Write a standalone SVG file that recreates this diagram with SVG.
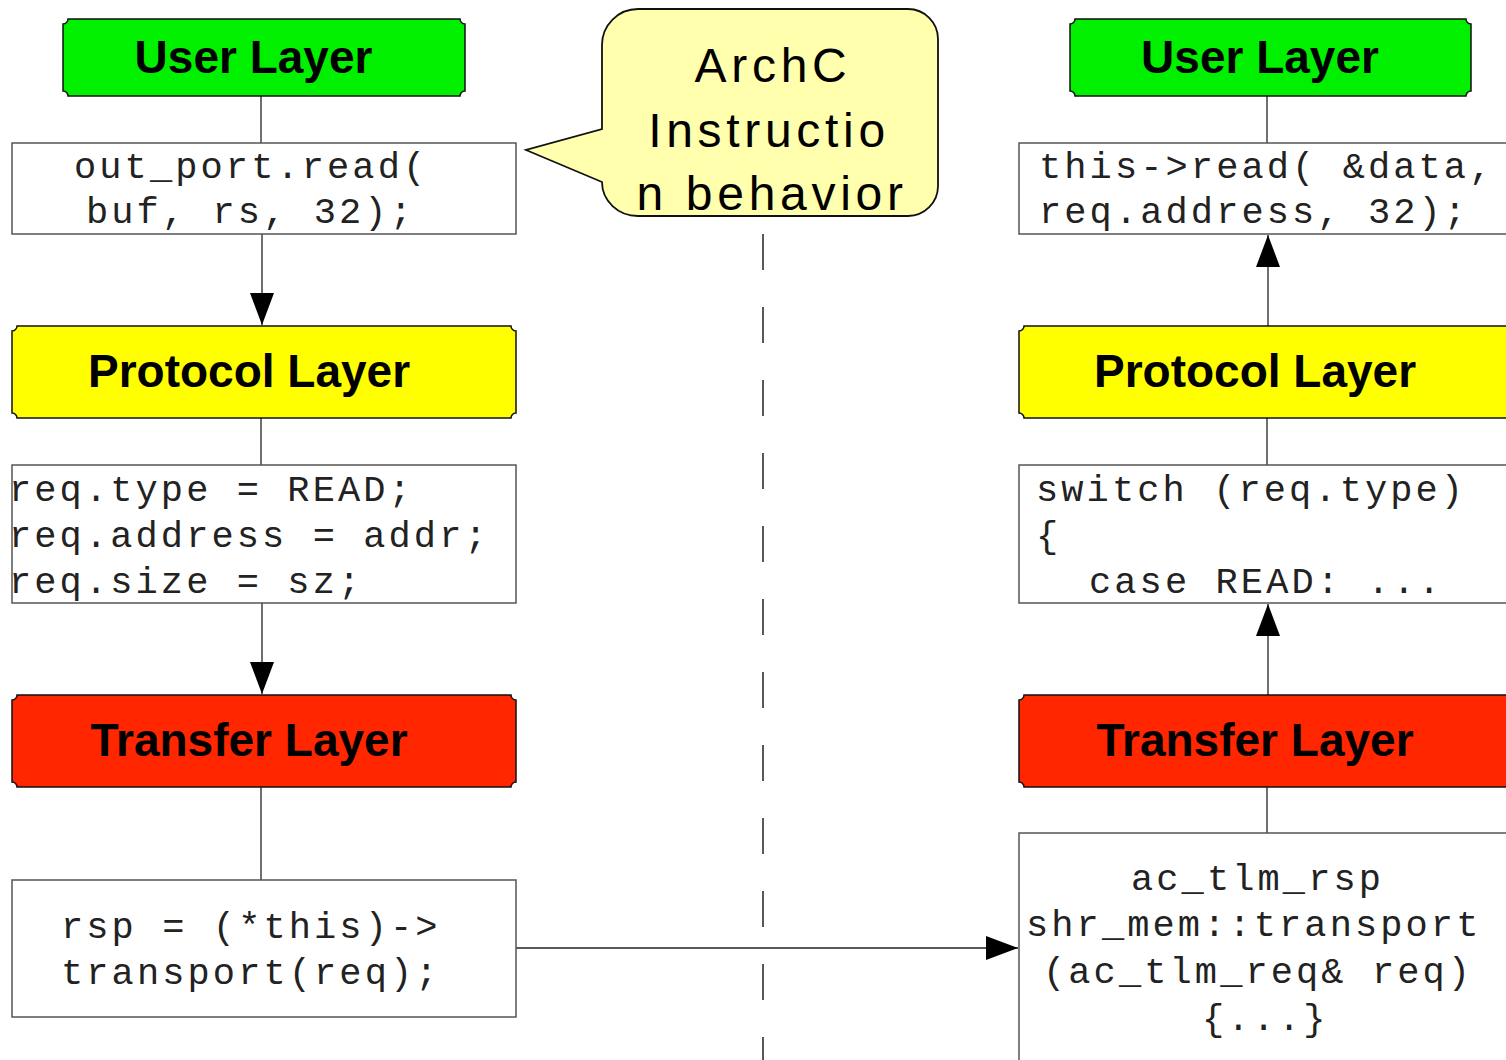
<svg xmlns="http://www.w3.org/2000/svg" width="1506" height="1060" viewBox="0 0 1506 1060">
  <defs>
    <style>
      .layer { stroke: #111; stroke-width: 1.5; }
      .green { fill: #00f000; }
      .yellow { fill: #ffff00; }
      .red { fill: #ff2600; }
      .title { font-family: "Liberation Sans", Arial, sans-serif; font-weight: bold; font-size: 46px; fill: #000; text-anchor: middle; }
      .code-box { fill: #fff; stroke: #555; stroke-width: 1.5; }
      .code { font-family: "Liberation Mono", "Courier New", monospace; font-size: 37px; letter-spacing: 3.1px; fill: #222; white-space: pre; }
      .link { stroke: #222; stroke-width: 1.3; fill: none; }
      .divider { stroke: #222; stroke-width: 1.5; stroke-dasharray: 36 37; fill: none; }
      .callout { fill: #ffffad; stroke: #111; stroke-width: 1.8; }
      .callout-text { font-family: "Liberation Sans", Arial, sans-serif; font-size: 48px; letter-spacing: 4.7px; fill: #000; text-anchor: middle; }
    </style>
    <marker id="head" markerUnits="userSpaceOnUse" markerWidth="32" markerHeight="24" refX="32" refY="12" orient="auto">
      <path d="M0,0 L32,12 L0,24 Z" fill="#000"/>
    </marker>
  </defs>

  <!-- background -->
  <rect x="0" y="0" width="1506" height="1060" fill="#fff"/>

  <!-- dashed divider between the two sides -->
  <line class="divider" x1="763" y1="234" x2="763" y2="1060"/>

  <!-- connectors -->
  <g id="connectors">
    <line class="link" x1="261" y1="96" x2="261" y2="143"/>
    <line class="link" x1="262" y1="234" x2="262" y2="325" marker-end="url(#head)"/>
    <line class="link" x1="261" y1="418" x2="261" y2="465"/>
    <line class="link" x1="262" y1="603" x2="262" y2="694" marker-end="url(#head)"/>
    <line class="link" x1="261" y1="787" x2="261" y2="880"/>
    <line class="link" x1="512" y1="948" x2="1018" y2="948" marker-end="url(#head)"/>
    <line class="link" x1="1267" y1="96" x2="1267" y2="143"/>
    <line class="link" x1="1268" y1="326" x2="1268" y2="235" marker-end="url(#head)"/>
    <line class="link" x1="1267" y1="418" x2="1267" y2="465"/>
    <line class="link" x1="1268" y1="695" x2="1268" y2="604" marker-end="url(#head)"/>
    <line class="link" x1="1267" y1="787" x2="1267" y2="833"/>
  </g>

  <!-- left column -->
  <g id="user-layer-left">
    <path class="layer green" d="M68,19 H460 A5 5 0 0 0 465,24 V91 A5 5 0 0 0 460,96 H68 A5 5 0 0 0 63,91 V24 A5 5 0 0 0 68,19 Z"/>
    <text class="title" x="253.5" y="73">User Layer</text>
  </g>
  <g id="read-call">
    <rect class="code-box" x="12" y="143" width="504" height="91"/>
    <text class="code" x="74" y="178">out_port.read(</text>
    <text class="code" x="86" y="223">buf, rs, 32);</text>
  </g>
  <g id="protocol-layer-left">
    <path class="layer yellow" d="M17,326 H511 A5 5 0 0 0 516,331 V413 A5 5 0 0 0 511,418 H17 A5 5 0 0 0 12,413 V331 A5 5 0 0 0 17,326 Z"/>
    <text class="title" x="249" y="387">Protocol Layer</text>
  </g>
  <g id="request-setup">
    <rect class="code-box" x="12" y="465" width="504" height="138"/>
    <text class="code" x="9" y="501">req.type = READ;</text>
    <text class="code" x="9" y="547">req.address = addr;</text>
    <text class="code" x="9" y="593">req.size = sz;</text>
  </g>
  <g id="transfer-layer-left">
    <path class="layer red" d="M17,695 H511 A5 5 0 0 0 516,700 V782 A5 5 0 0 0 511,787 H17 A5 5 0 0 0 12,782 V700 A5 5 0 0 0 17,695 Z"/>
    <text class="title" x="249" y="756">Transfer Layer</text>
  </g>
  <g id="transport-call">
    <rect class="code-box" x="12" y="880" width="504" height="137"/>
    <text class="code" x="61" y="938">rsp = (*this)-&gt;</text>
    <text class="code" x="61" y="984">transport(req);</text>
  </g>

  <!-- callout -->
  <g id="callout">
    <path class="callout" d="M640,9 H908 A30 30 0 0 1 938,39 V186 A30 30 0 0 1 908,216 H638 A36 34 0 0 1 602,182 L526,150 L602,129 V45 A36 36 0 0 1 638,9 Z"/>
    <text class="callout-text" x="773" y="82">ArchC</text>
    <text class="callout-text" x="769" y="147">Instructio</text>
    <text class="callout-text" x="772" y="210">n behavior</text>
  </g>

  <!-- right column -->
  <g id="user-layer-right">
    <path class="layer green" d="M1075,19 H1466 A5 5 0 0 0 1471,24 V91 A5 5 0 0 0 1466,96 H1075 A5 5 0 0 0 1070,91 V24 A5 5 0 0 0 1075,19 Z"/>
    <text class="title" x="1260" y="73">User Layer</text>
  </g>
  <g id="memory-read">
    <rect class="code-box" x="1019" y="143" width="500" height="91"/>
    <text class="code" x="1039" y="178">this-&gt;read( &amp;data,</text>
    <text class="code" x="1039" y="223">req.address, 32);</text>
  </g>
  <g id="protocol-layer-right">
    <path class="layer yellow" d="M1024,326 H1520 V418 H1024 A5 5 0 0 0 1019,413 V331 A5 5 0 0 0 1024,326 Z"/>
    <text class="title" x="1255" y="387">Protocol Layer</text>
  </g>
  <g id="request-dispatch">
    <rect class="code-box" x="1019" y="465" width="500" height="138"/>
    <text class="code" x="1036" y="501">switch (req.type)</text>
    <text class="code" x="1036" y="547">{</text>
    <text class="code" x="1089" y="593">case READ: ...</text>
  </g>
  <g id="transfer-layer-right">
    <path class="layer red" d="M1024,695 H1520 V787 H1024 A5 5 0 0 0 1019,782 V700 A5 5 0 0 0 1024,695 Z"/>
    <text class="title" x="1255" y="756">Transfer Layer</text>
  </g>
  <g id="transport-impl">
    <rect class="code-box" x="1019" y="833" width="500" height="240"/>
    <text class="code" x="1131" y="890">ac_tlm_rsp</text>
    <text class="code" x="1026" y="936">shr_mem::transport</text>
    <text class="code" x="1043" y="983">(ac_tlm_req&amp; req)</text>
    <text class="code" x="1202" y="1030">{...}</text>
  </g>
</svg>
